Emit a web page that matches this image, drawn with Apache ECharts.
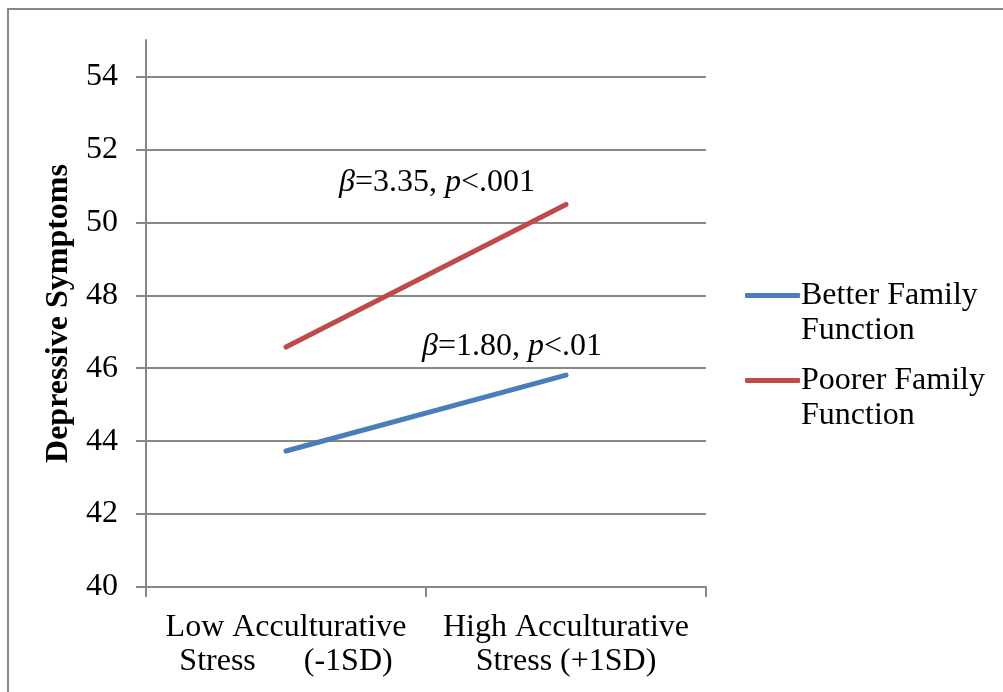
<!DOCTYPE html>
<html>
<head>
<meta charset="utf-8">
<script src="https://cdn.jsdelivr.net/npm/echarts@6/dist/echarts.min.js"></script>
<style>
html,body{margin:0;padding:0;background:#fff;}
#chart{width:1003px;height:692px;}
</style>
</head>
<body>
<div id="chart"></div>
<script>
const categories = ['Low Acculturative\nStress      (-1SD)', 'High Acculturative\nStress (+1SD)'];
const betterFamily = [43.73, 45.81];
const poorerFamily = [46.58, 50.49];
const yTicks = [40, 42, 44, 46, 48, 50, 52, 54];
const seriesNames = ['Better Family Function', 'Poorer Family Function'];
const annotations = ['{i|β}=3.35, {i|p}<.001', '{i|β}=1.80, {i|p}<.01'];

const FONT = 'Liberation Serif, Times New Roman, serif';
const FS = 32;
const GRID = '#888888';

const chart = echarts.init(document.getElementById('chart'));
chart.setOption({
  animation: false,
  backgroundColor: '#fff',
  grid: { left: 146, right: 297, top: 40, bottom: 105, containLabel: false },
  xAxis: {
    type: 'category',
    data: categories,
    boundaryGap: true,
    axisLine: { lineStyle: { color: GRID, width: 2 } },
    axisTick: { show: true, length: 10, alignWithLabel: false, lineStyle: { color: GRID, width: 2 } },
    axisLabel: { interval: 0, margin: 24, color: '#000', fontFamily: FONT, fontSize: FS, lineHeight: 34 },
    splitLine: { show: false }
  },
  yAxis: {
    type: 'value',
    min: 40, max: 55, interval: 2,
    name: 'Depressive Symptoms',
    nameLocation: 'middle',
    nameGap: 63,
    nameRotate: 90,
    nameTextStyle: { color: '#000', fontFamily: FONT, fontSize: FS, fontWeight: 'bold' },
    axisLine: { show: true, lineStyle: { color: GRID, width: 2 } },
    axisTick: { show: true, length: 10, customValues: yTicks, lineStyle: { color: GRID, width: 2 } },
    axisLabel: { customValues: yTicks, margin: 28, color: '#000', fontFamily: FONT, fontSize: FS },
    splitLine: { show: true, lineStyle: { color: GRID, width: 2 } }
  },
  legend: {
    orient: 'vertical',
    left: 745,
    top: 243,
    padding: 0,
    itemGap: -20,
    itemWidth: 55,
    itemHeight: 5,
    icon: 'roundRect',
    data: seriesNames,
    formatter: function (name) { return '\n' + name.replace(' Function', '\nFunction'); },
    textStyle: { color: '#000', fontFamily: FONT, fontSize: FS, lineHeight: 35, padding: [0, 0, 0, -4] }
  },
  series: [
    {
      name: seriesNames[0], type: 'line', data: betterFamily, symbol: 'none',
      lineStyle: { color: '#4A7EBB', width: 5, cap: 'round' }, itemStyle: { color: '#4A7EBB' }
    },
    {
      name: seriesNames[1], type: 'line', data: poorerFamily, symbol: 'none',
      lineStyle: { color: '#BE4B48', width: 5, cap: 'round' }, itemStyle: { color: '#BE4B48' }
    }
  ],
  graphic: [
    { type: 'rect', shape: { x: 8, y: 9, width: 1000, height: 700 }, style: { fill: 'none', stroke: '#888', lineWidth: 2 }, silent: true },
    { type: 'text', x: 437, y: 183, style: { text: annotations[0], align: 'center', verticalAlign: 'middle', fill: '#000', font: FS + 'px ' + FONT, rich: { i: { fontStyle: 'italic', fontFamily: FONT, fontSize: FS } } } },
    { type: 'text', x: 512, y: 347, style: { text: annotations[1], align: 'center', verticalAlign: 'middle', fill: '#000', font: FS + 'px ' + FONT, rich: { i: { fontStyle: 'italic', fontFamily: FONT, fontSize: FS } } } }
  ]
});
</script>
</body>
</html>
